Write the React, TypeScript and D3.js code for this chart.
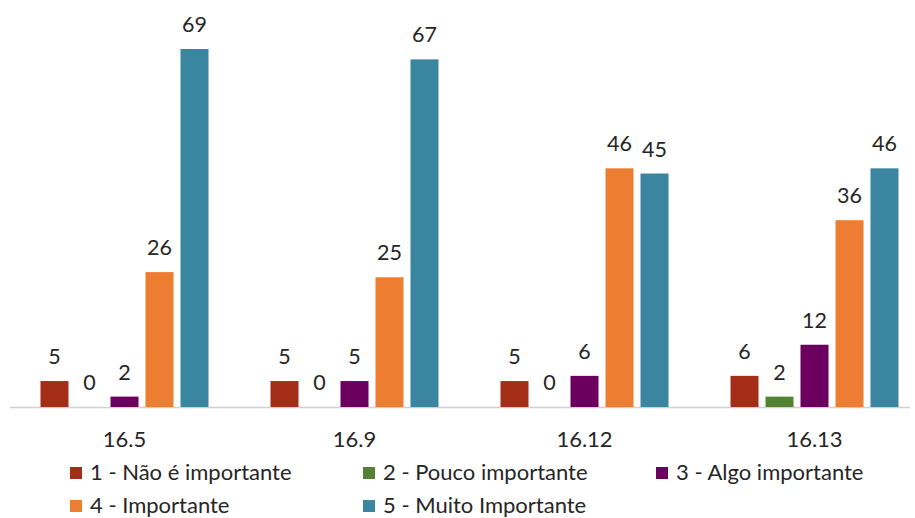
import React from "react";
import * as d3 from "d3";

const categories = ["16.5", "16.9", "16.12", "16.13"];
const seriesNames = [
  "1 - Não é importante",
  "2 - Pouco importante",
  "3 - Algo importante",
  "4 - Importante",
  "5 - Muito Importante",
];
const seriesColors = ["#A32D16", "#548235", "#6B005F", "#ED7D31", "#3A85A0"];
const naoImportante = [5, 5, 5, 6];
const poucoImportante = [0, 0, 0, 2];
const algoImportante = [2, 5, 6, 12];
const importante = [26, 25, 46, 36];
const muitoImportante = [69, 67, 45, 46];
const seriesValues = [naoImportante, poucoImportante, algoImportante, importante, muitoImportante];

const W = 915;
const H = 518;
const baseline = 407;
const FONT = "Lato, 'Open Sans', sans-serif";

export default function App() {
  const x0 = d3.scaleBand<string>().domain(categories).range([9.5, 929.5]).padding(0);
  const groupWidth = 168;
  const x1 = d3
    .scaleBand<number>()
    .domain(d3.range(seriesNames.length))
    .range([0, groupWidth])
    .paddingInner(0.2);
  const y = d3.scaleLinear().domain([0, 69]).range([baseline, 49]);

  const legendPos = [
    { x: 70, y: 467 },
    { x: 363, y: 467 },
    { x: 656, y: 467 },
    { x: 70, y: 500 },
    { x: 363, y: 500 },
  ];

  return (
    <svg width={W} height={H} style={{ position: "absolute", left: 0, top: 0, background: "#fff" }}>
      <line x1={10} x2={910} y1={baseline + 0.5} y2={baseline + 0.5} stroke="#D0D0D0" strokeWidth={1.5} />
      {categories.map((c, ci) => {
        const gx = (x0(c) as number) + (x0.bandwidth() - groupWidth) / 2;
        return (
          <g key={c}>
            {seriesValues.map((vals, si) => {
              const v = vals[ci];
              const bx = gx + (x1(si) as number);
              const bw = x1.bandwidth();
              return (
                <g key={si}>
                  {v > 0 && (
                    <rect x={bx} y={y(v)} width={bw} height={baseline - y(v)} fill={seriesColors[si]} />
                  )}
                  <text
                    x={bx + bw / 2}
                    y={y(v) - 17}
                    textAnchor="middle"
                    fontFamily={FONT}
                    fontSize={21.5}
                    fill="#262626"
                  >
                    {v}
                  </text>
                </g>
              );
            })}
            <text
              x={(x0(c) as number) + x0.bandwidth() / 2}
              y={447}
              textAnchor="middle"
              fontFamily={FONT}
              fontSize={22}
              fill="#262626"
            >
              {c}
            </text>
          </g>
        );
      })}
      {seriesNames.map((n, i) => (
        <g key={n} transform={`translate(${legendPos[i].x},${legendPos[i].y})`}>
          <rect x={0} y={0} width={12} height={12} fill={seriesColors[i]} />
          <text x={20} y={13} fontFamily={FONT} fontSize={22} fill="#262626">
            {n}
          </text>
        </g>
      ))}
    </svg>
  );
}
